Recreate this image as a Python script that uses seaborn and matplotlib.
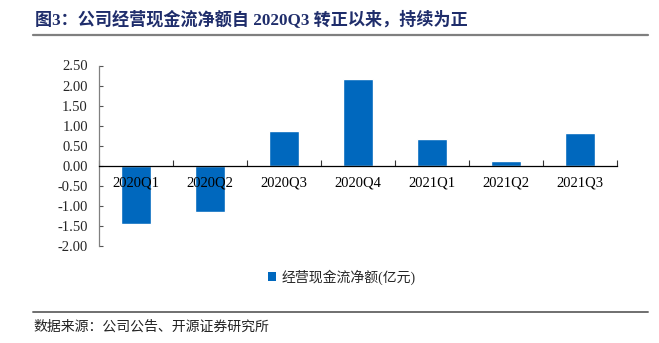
import matplotlib
matplotlib.use("Agg")
import matplotlib.pyplot as plt
import seaborn as sns
import pandas as pd
from matplotlib.lines import Line2D
from matplotlib.patches import Patch

categories = ["2020Q1", "2020Q2", "2020Q3", "2020Q4", "2021Q1", "2021Q2", "2021Q3"]
values = [-1.45, -1.16, 0.87, 2.16, 0.66, 0.11, 0.82]
yticks = [2.5, 2.0, 1.5, 1.0, 0.5, 0.0, -0.5, -1.0, -1.5, -2.0]
series_name = "经营现金流净额(亿元)"
title = "图3：公司经营现金流净额自 2020Q3 转正以来，持续为正"
source = "数据来源：公司公告、开源证券研究所"

sns.set_theme(style="white")
plt.rcParams["font.family"] = ["Liberation Serif", "Noto Sans CJK SC", "DejaVu Sans"]

W, H = 659, 343
fig = plt.figure(figsize=(W / 100, H / 100), dpi=100)
ax = fig.add_axes([99 / W, 1 - 246 / H, (617 - 99) / W, (246 - 65.5) / H])

df = pd.DataFrame({"q": categories, "v": values})
bar_color = "#0068BE"
sns.barplot(data=df, x="q", y="v", color=bar_color, width=0.4, ax=ax, saturation=1)

ax.set_xlim(-0.5, len(categories) - 0.5)
ax.set_ylim(-2.0, 2.5)
ax.set_yticks(yticks)
ax.set_yticklabels([f"{t:.2f}" for t in yticks], fontsize=10.5)
ax.set_xlabel("")
ax.set_ylabel("")

# x axis at zero
ax.spines["bottom"].set_position(("data", 0))
ax.spines["top"].set_visible(False)
ax.spines["right"].set_visible(False)
for s in ["left", "bottom"]:
    ax.spines[s].set_color("#000000")
    ax.spines[s].set_linewidth(0.9)
ax.spines["left"].set_color("#808080")

# category boundary ticks
ax.set_xticks([i + 0.5 for i in range(-1, len(categories))], minor=False)
ax.set_xticklabels([])
ax.tick_params(axis="x", which="major", direction="in", length=4, width=0.8, color="#333333", bottom=True)
ax.tick_params(axis="y", direction="in", length=3, width=0.8, color="#555555", left=True, pad=8)
for i, c in enumerate(categories):
    ax.text(i, -0.42, c, ha="center", va="center", fontsize=10.5, color="#000000")

# legend
handle = Patch(facecolor=bar_color, edgecolor="none", label=series_name)
leg = fig.legend(handles=[handle], loc="center", bbox_to_anchor=(342 / W, 1 - 277 / H),
                 frameon=False, handlelength=0.6, handleheight=0.6,
                 handletextpad=0.4, prop={"family": ["Liberation Serif", "Noto Sans CJK SC"], "size": 10})

# title and rules
fig.text(35 / W, 1 - 19 / H, title, ha="left", va="center", fontsize=12.3, fontweight="bold",
         color="#1F2D6B")
fig.add_artist(Line2D([33 / W, 648 / W], [1 - 34.5 / H] * 2, color="#7F7F7F", lw=1.6))
fig.add_artist(Line2D([33 / W, 648 / W], [1 - 311.7 / H] * 2, color="#6F6F6F", lw=1.4))
fig.text(33 / W, 1 - 327 / H, source, ha="left", va="center", fontsize=10, color="#222222")

fig.savefig("out.png", dpi=100)
